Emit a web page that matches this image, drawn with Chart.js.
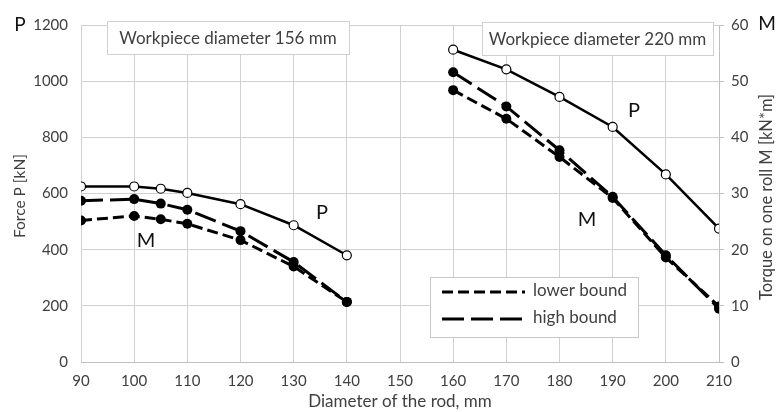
<!DOCTYPE html>
<html>
<head>
<meta charset="utf-8">
<script src="https://cdn.jsdelivr.net/npm/chart.js@4/dist/chart.umd.min.js"></script>
<style>
  body { margin: 0; background: #fff; }
  #wrap { width: 777px; height: 412px; }
</style>
</head>
<body>
<div id="wrap"><canvas id="grafico"></canvas></div>
<script>
// Dados
const diamEsq = [90, 100, 105, 110, 120, 130, 140];
const forcaEsq = [625, 625, 617, 602, 562, 487, 380];
const torqueAltoEsq = [28.7, 29.0, 28.2, 27.1, 23.3, 17.8, 10.7];
const torqueBaixoEsq = [25.2, 26.0, 25.4, 24.6, 21.7, 17.0, 10.7];

const diamDir = [160, 170, 180, 190, 200, 210];
const forcaDir = [1112, 1042, 944, 837, 668, 475];
const torqueAltoDir = [51.6, 45.5, 37.7, 29.4, 19.0, 9.5];
const torqueBaixoDir = [48.4, 43.3, 36.5, 29.2, 18.6, 9.9];

const ticksX = [90, 100, 110, 120, 130, 140, 150, 160, 170, 180, 190, 200, 210];
const ticksP = [0, 200, 400, 600, 800, 1000, 1200];
const ticksM = [0, 10, 20, 30, 40, 50, 60];

const fonte = 'Lato, "Open Sans", sans-serif';
const cinzaTexto = '#404040';

function pontos(xs, ys) {
    return xs.map((x, i) => ({ x: x, y: ys[i] }));
}

function serieP(xs, ys) {
    return {
        data: pontos(xs, ys), yAxisID: 'y',
        borderColor: '#000', borderWidth: 2.5,
        pointRadius: 4.5, pointBackgroundColor: '#fff', pointBorderColor: '#000', pointBorderWidth: 1.2
    };
}
function serieM(xs, ys, dash) {
    return {
        data: pontos(xs, ys), yAxisID: 'y2',
        borderColor: '#000', borderWidth: 3, borderDash: dash,
        pointRadius: 5, pointBackgroundColor: '#000', pointBorderColor: '#000', pointBorderWidth: 0
    };
}

const tracoBaixo = [11, 5];
const tracoAlto = [22, 7];

// Caixas de texto, rótulos, títulos dos eixos e legenda
const anotacoes = {
    id: 'anotacoes',
    afterDraw(chart) {
        const ctx = chart.ctx;
        const area = chart.chartArea;
        ctx.save();

        function caixa(x, y, w, h, texto) {
            ctx.fillStyle = '#fff';
            ctx.fillRect(x, y, w, h);
            ctx.strokeStyle = '#d0d0d0';
            ctx.lineWidth = 1;
            ctx.strokeRect(x + 0.5, y + 0.5, w, h);
            ctx.fillStyle = cinzaTexto;
            ctx.font = '17px ' + fonte;
            ctx.textAlign = 'center';
            ctx.textBaseline = 'middle';
            ctx.fillText(texto, x + w / 2, y + h / 2 + 1);
        }
        caixa(107, 21, 242, 33, 'Workpiece diameter 156 mm');
        caixa(482, 22, 231, 33, 'Workpiece diameter 220 mm');

        ctx.fillStyle = '#111';
        ctx.font = '20px ' + fonte;
        ctx.textAlign = 'center';
        ctx.textBaseline = 'middle';
        ctx.fillText('P', 322, 213);
        ctx.fillText('M', 146, 241);
        ctx.fillText('P', 634, 111);
        ctx.fillText('M', 587, 220);
        ctx.font = '19px ' + fonte;
        ctx.fillText('P', 20, 25);
        ctx.fillText('M', 767, 24);

        // títulos dos eixos
        ctx.fillStyle = cinzaTexto;
        ctx.font = '17px ' + fonte;
        ctx.fillText('Diameter of the rod, mm', (area.left + area.right) / 2, 402);
        ctx.font = '15.5px ' + fonte;
        ctx.save();
        ctx.translate(20, 196);
        ctx.rotate(-Math.PI / 2);
        ctx.fillText('Force P [kN]', 0, 0);
        ctx.restore();
        ctx.font = '16.5px ' + fonte;
        ctx.save();
        ctx.translate(767, 197);
        ctx.rotate(-Math.PI / 2);
        ctx.fillText('Torque on one roll M [kN*m]', 0, 0);
        ctx.restore();

        // legenda
        ctx.fillStyle = '#fff';
        ctx.fillRect(430, 277, 208, 60);
        ctx.strokeStyle = '#c8c8c8';
        ctx.lineWidth = 1;
        ctx.strokeRect(430.5, 277.5, 208, 60);
        ctx.strokeStyle = '#000';
        ctx.lineWidth = 3;
        ctx.setLineDash(tracoBaixo);
        ctx.beginPath(); ctx.moveTo(442, 292); ctx.lineTo(525, 292); ctx.stroke();
        ctx.setLineDash(tracoAlto);
        ctx.beginPath(); ctx.moveTo(442, 319); ctx.lineTo(525, 319); ctx.stroke();
        ctx.setLineDash([]);
        ctx.fillStyle = cinzaTexto;
        ctx.font = '17px ' + fonte;
        ctx.textAlign = 'left';
        ctx.fillText('lower bound', 533, 291);
        ctx.fillText('high bound', 533, 318);

        ctx.restore();
    }
};

const fonteTicks = { family: fonte, size: 15 };

new Chart(document.getElementById('grafico'), {
    type: 'line',
    data: {
        datasets: [
            serieP(diamEsq, forcaEsq),
            serieM(diamEsq, torqueAltoEsq, tracoAlto),
            serieM(diamEsq, torqueBaixoEsq, tracoBaixo),
            serieP(diamDir, forcaDir),
            serieM(diamDir, torqueAltoDir, tracoAlto),
            serieM(diamDir, torqueBaixoDir, tracoBaixo)
        ]
    },
    options: {
        responsive: true,
        maintainAspectRatio: false,
        animation: false,
        layout: { padding: { top: 25, bottom: 0, left: 0, right: 0 } },
        plugins: { legend: { display: false }, tooltip: { enabled: false } },
        elements: { line: { tension: 0 } },
        scales: {
            x: {
                type: 'linear', min: 90, max: 210,
                afterBuildTicks: s => { s.ticks = ticksX.map(v => ({ value: v })); },
                grid: { color: '#d0d0d0', drawTicks: false },
                border: { color: '#bfbfbf' },
                ticks: { color: cinzaTexto, font: fonteTicks, padding: 10, callback: v => String(v) },
                afterFit: s => { s.height = 50; }
            },
            y: {
                position: 'left', min: 0, max: 1200,
                afterBuildTicks: s => { s.ticks = ticksP.map(v => ({ value: v })); },
                grid: { color: '#d0d0d0', drawTicks: false },
                border: { display: false },
                ticks: { color: cinzaTexto, font: fonteTicks, padding: 13, callback: v => String(v) },
                afterFit: s => { s.width = 81; }
            },
            y2: {
                position: 'right', min: 0, max: 60,
                afterBuildTicks: s => { s.ticks = ticksM.map(v => ({ value: v })); },
                grid: { drawOnChartArea: false, color: '#bfbfbf', tickLength: 5 },
                border: { color: '#bfbfbf' },
                ticks: { color: cinzaTexto, font: fonteTicks, padding: 7, callback: v => String(v) },
                afterFit: s => { s.width = 58; }
            }
        }
    },
    plugins: [anotacoes]
});
</script>
</body>
</html>
